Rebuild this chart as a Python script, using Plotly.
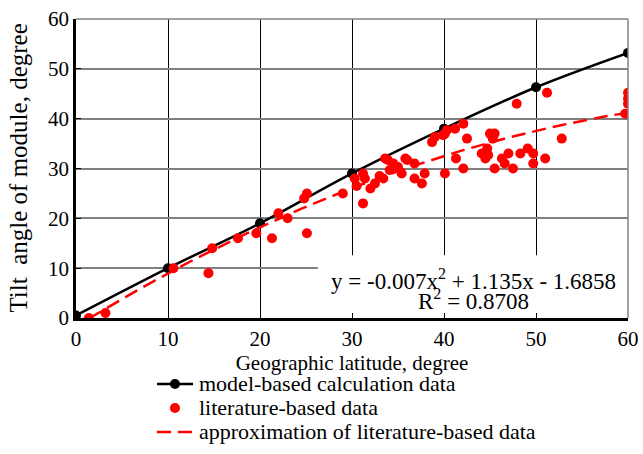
import plotly.graph_objects as go
import numpy as np

# Model-based calculation data
model_lat = [0, 10, 20, 30, 40, 50, 60]
model_tilt = [0.5, 10, 19, 29, 38, 46.3, 53.2]

# Literature-based data
lit_lat = [1.4, 3.2, 10.6, 14.4, 14.8, 17.6, 19.6, 21.3, 22, 23, 24.8, 25.1, 25.1, 29,
           30.3, 30.5, 31.2, 31.2, 31.4, 32, 32.5, 33, 33.4, 33.6, 33.9, 34.1, 34.5, 35,
           35.4, 35.8, 36, 36.8, 36.8, 37.6, 37.9, 38.7, 39, 39.9, 40.3, 40.1, 41.2, 42.1,
           42.5, 40.1, 41.3, 42.1, 44.1, 44.7, 45, 45.5, 45.3, 44.5, 44.8, 45.5, 46.3, 46.6,
           47, 47.5, 48.3, 49.1, 49.7, 49.7, 51, 47.9, 51.2, 52.8, 59.7, 60, 60, 60]
lit_tilt = [0, 1, 10, 9, 14, 16, 17, 16, 21, 20, 24, 25, 17, 25,
            28, 26.5, 23, 29, 28, 26, 27, 28.5, 28, 32, 31.7, 29.7, 31, 30.3,
            29, 32, 31.7, 31, 28, 27, 29, 35.3, 36.3, 36.7, 37.7, 37, 38, 39,
            36, 29, 32, 30, 33, 34, 37, 37, 36, 32, 32.7, 30, 32, 31,
            33, 30, 33, 34, 33, 31, 32, 43, 45.2, 36, 41, 43, 44, 45.2]

# Approximation (displayed trendline equation)
coef_a, coef_b, coef_c = -0.007, 1.135, -1.6858
r_squared = 0.8708
trend_lat = np.linspace(1.4, 60, 80)
trend_tilt = coef_a * trend_lat**2 + coef_b * trend_lat + coef_c

x_ticks = [0, 10, 20, 30, 40, 50, 60]
y_ticks = [0, 10, 20, 30, 40, 50, 60]

x_title = "Geographic latitude, degree"
y_title = "Tilt\u00a0 angle of module, degree"
legend_names = ["model-based calculation data", "literature-based data",
                "approximation of literature-based data"]

FONT = "Liberation Serif, Times New Roman, serif"
RED = "#ff0000"

fig = go.Figure()
fig.add_trace(go.Scatter(
    x=model_lat, y=model_tilt, mode="lines+markers", line_shape="spline",
    line=dict(color="black", width=2.5), marker=dict(color="black", size=10),
    name=legend_names[0], showlegend=False))
fig.add_trace(go.Scatter(
    x=lit_lat, y=lit_tilt, mode="markers",
    marker=dict(color=RED, size=10), name=legend_names[1], showlegend=False))
fig.add_trace(go.Scatter(
    x=trend_lat, y=trend_tilt, mode="lines",
    line=dict(color=RED, width=2.5, dash="14px,7px"),
    name=legend_names[2], showlegend=False))

# white box behind the regression equation
fig.add_shape(type="rect", xref="x", yref="y", x0=26.3, x1=60, y0=0, y1=12.6,
              fillcolor="white", line_width=0, layer="between")

fig.add_annotation(x=43.2, y=7.7, xref="x", yref="y", showarrow=False,
                   text=f"y = {coef_a}x<sup>2</sup> + {coef_b}x - {abs(coef_c)}",
                   font=dict(family=FONT, size=23, color="black"))
fig.add_annotation(x=43.2, y=3.8, xref="x", yref="y", showarrow=False,
                   text=f"R<sup>2</sup> = {r_squared}",
                   font=dict(family=FONT, size=23, color="black"))

fig.update_xaxes(range=[0, 60], tickvals=x_ticks, showgrid=True, gridcolor="black",
                 gridwidth=1, showline=True, linecolor="black", linewidth=2.5,
                 mirror=False, ticks="inside", ticklen=5, tickcolor="black",
                 zeroline=False, automargin=False,
                 tickfont=dict(family=FONT, size=21, color="black"),
                 title=dict(text=x_title,
                            font=dict(family=FONT, size=21, color="black"), standoff=4))
fig.update_yaxes(range=[0, 60], tickvals=y_ticks, showgrid=True, gridcolor="#808080",
                 gridwidth=1.5, showline=True, linecolor="black", linewidth=2.5,
                 ticks="inside", ticklen=5, tickcolor="black", zeroline=False,
                 automargin=False,
                 tickfont=dict(family=FONT, size=21, color="black"))

# y-axis title placed as a rotated annotation
fig.add_annotation(x=-0.105, y=0.5, xref="paper", yref="paper", showarrow=False,
                   textangle=-90, text=y_title, xanchor="center", yanchor="middle",
                   font=dict(family=FONT, size=25, color="black"))

# top/right border (gray)
fig.add_shape(type="line", xref="paper", yref="paper", x0=0, x1=1, y0=1, y1=1,
              line=dict(color="#808080", width=1.5))
fig.add_shape(type="line", xref="paper", yref="paper", x0=1, x1=1, y0=0, y1=1,
              line=dict(color="#808080", width=1.5))

# legend (drawn below the plot area, paper coordinates)
sym_x0, sym_x1, sym_xc, txt_x = 0.1467, 0.212, 0.1793, 0.2192
rows_y = [-0.2207, -0.301, -0.381]
fig.add_shape(type="line", xref="paper", yref="paper", x0=sym_x0, x1=sym_x1,
              y0=rows_y[0], y1=rows_y[0], line=dict(color="black", width=2.5))
for yy, col in [(rows_y[0], "black"), (rows_y[1], RED)]:
    fig.add_shape(type="circle", xref="paper", yref="paper",
                  xsizemode="pixel", ysizemode="pixel", xanchor=sym_xc, yanchor=yy,
                  x0=-5, x1=5, y0=-5, y1=5, fillcolor=col, line_width=0)
fig.add_shape(type="line", xref="paper", yref="paper", x0=sym_x0, x1=sym_x1,
              y0=rows_y[2], y1=rows_y[2], line=dict(color=RED, width=2.5, dash="14px,7px"))
for name, yy in zip(legend_names, rows_y):
    fig.add_annotation(x=txt_x, y=yy, xref="paper", yref="paper", showarrow=False,
                       xanchor="left", yanchor="middle", text=name,
                       font=dict(family=FONT, size=22, color="black"))

fig.update_layout(
    width=643, height=454,
    margin=dict(l=76, r=15, t=19, b=136, autoexpand=False),
    plot_bgcolor="white", paper_bgcolor="white",
    showlegend=False,
)

fig.write_html("out.html", config={"displayModeBar": False},
               post_script="document.body.style.margin='0';")
